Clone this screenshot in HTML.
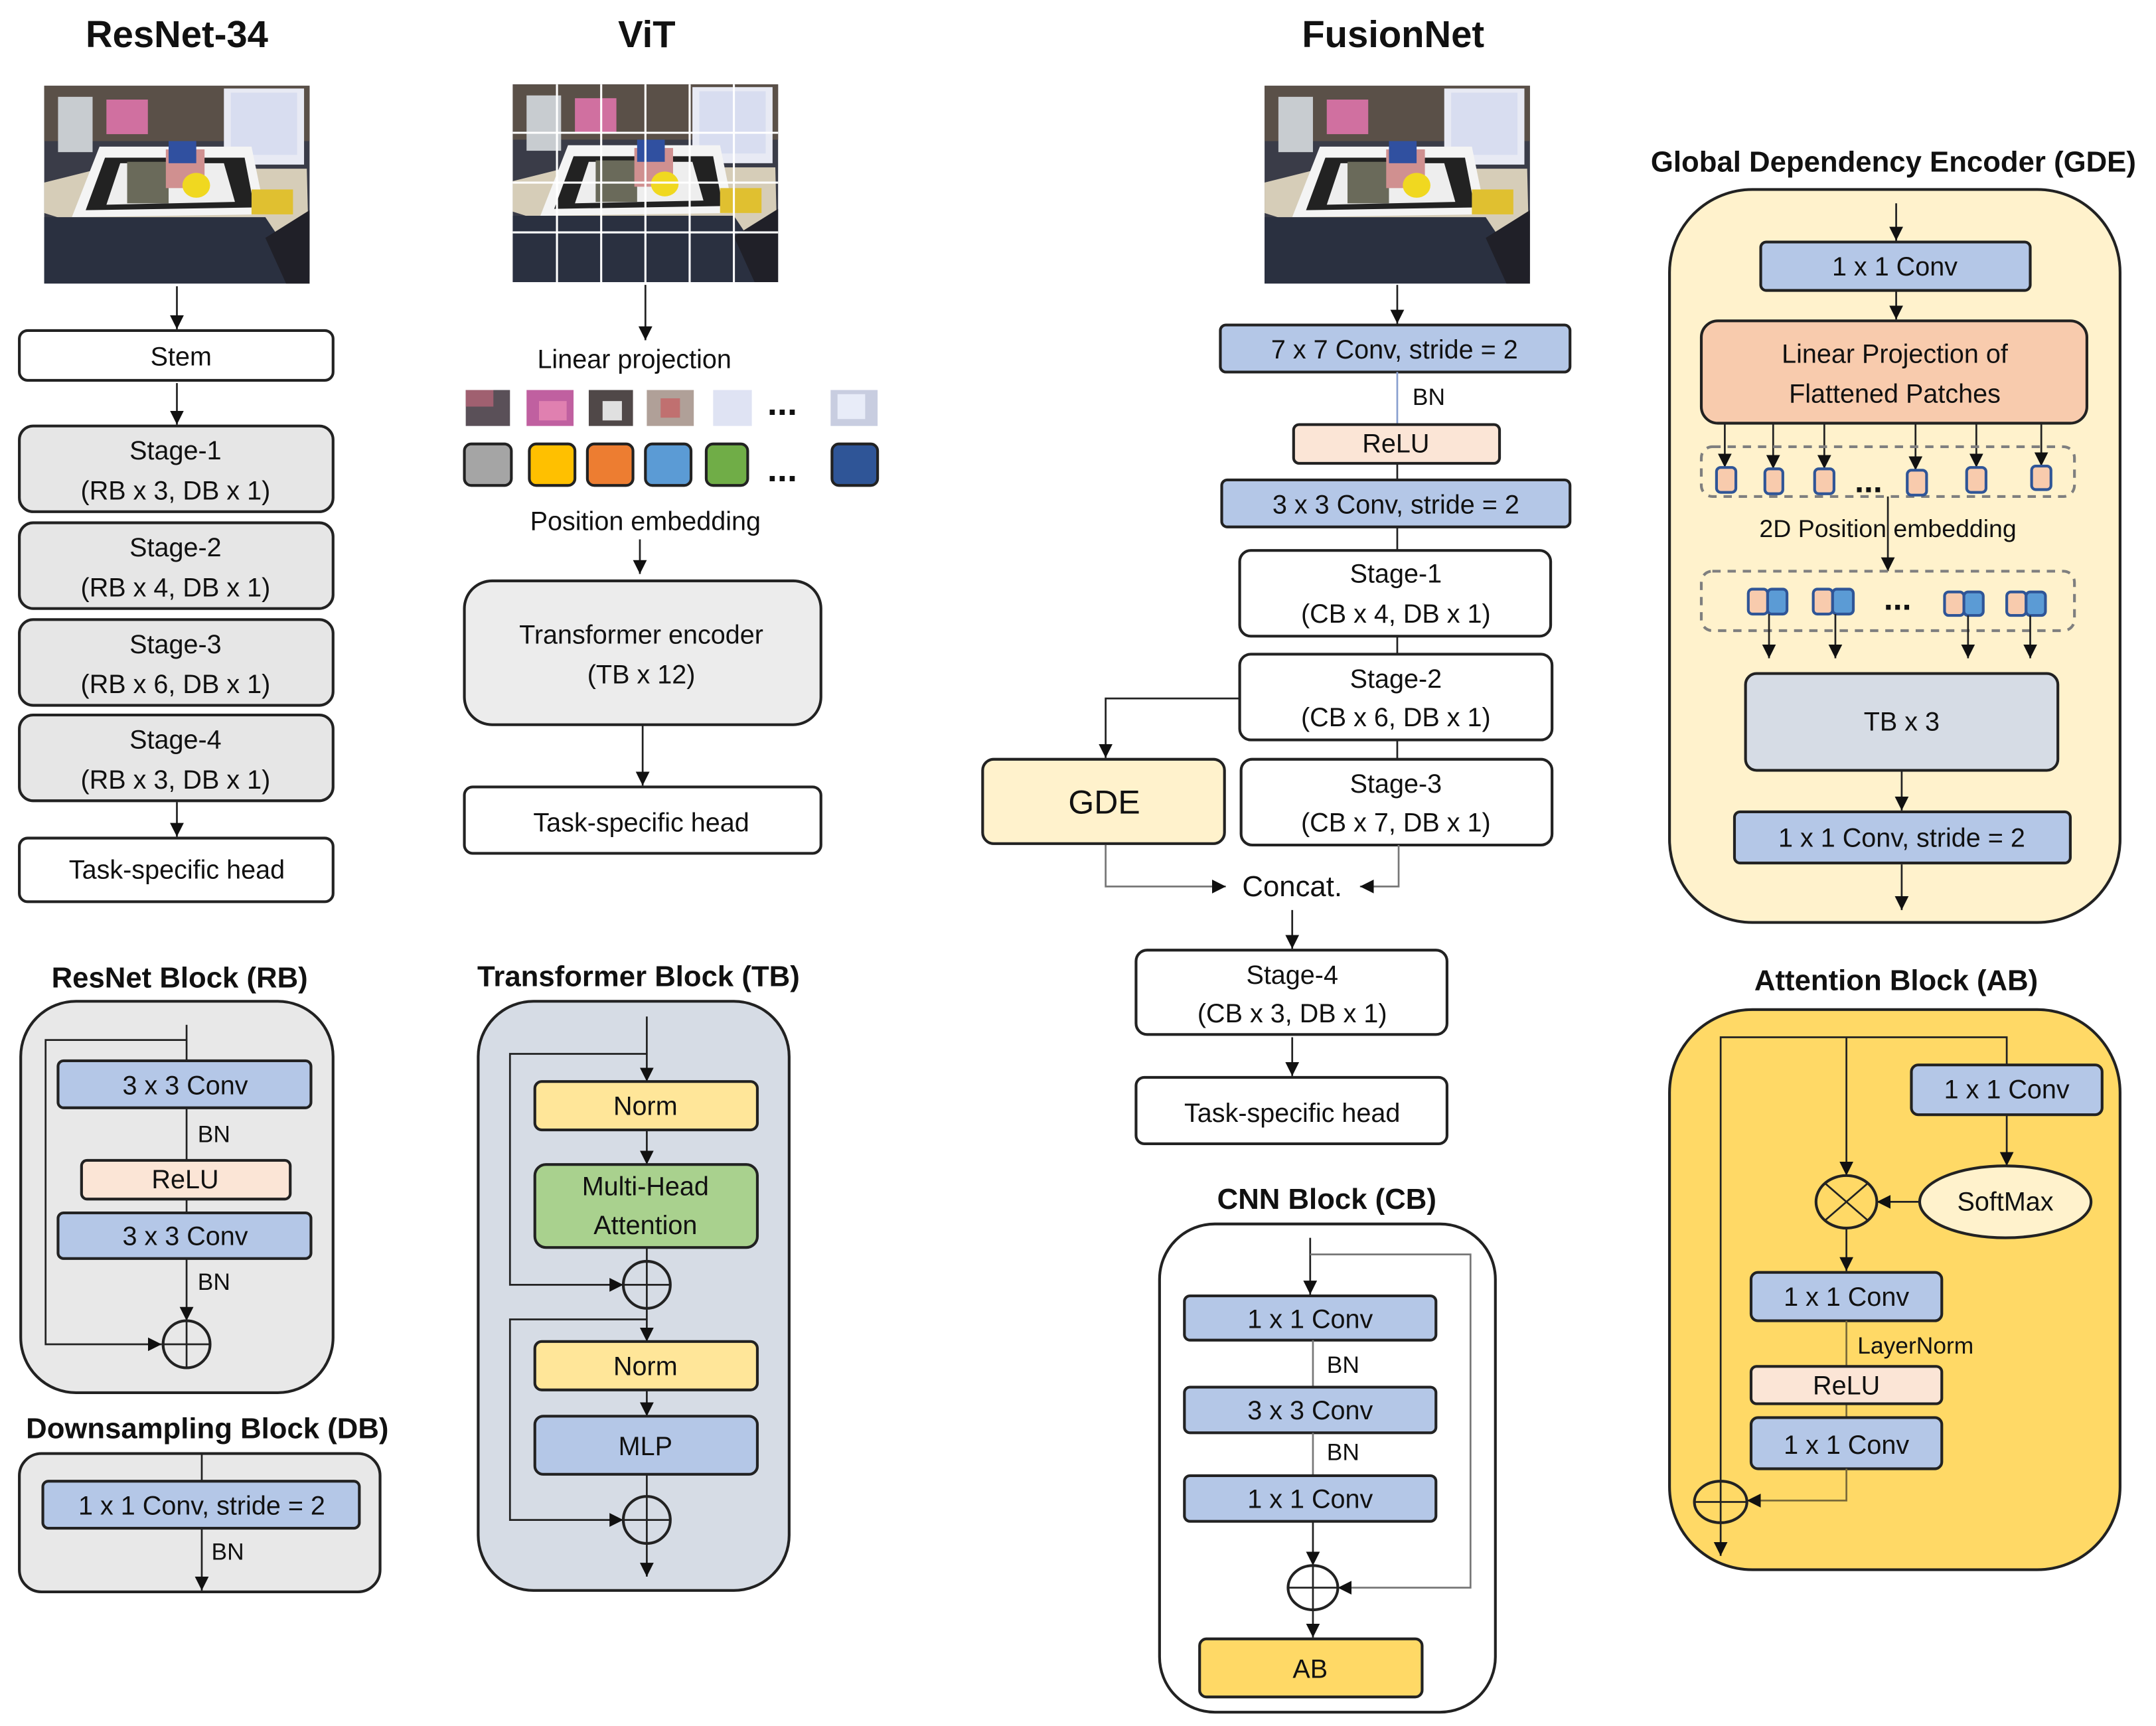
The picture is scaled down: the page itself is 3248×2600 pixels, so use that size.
<!DOCTYPE html>
<html><head><meta charset="utf-8"><style>
html,body{margin:0;padding:0;background:#fff;}
svg{display:block;}
text{font-family:"Liberation Sans",sans-serif;fill:#111;}
.t{font-size:19px;text-anchor:middle;dominant-baseline:central;}
.s{font-size:17px;text-anchor:start;dominant-baseline:central;}
.h{font-size:27px;font-weight:bold;text-anchor:middle;}
.h2{font-size:21px;font-weight:bold;text-anchor:middle;}
.b{stroke:#222;stroke-width:2;}
.l{stroke:#222;stroke-width:1.3;fill:none;}
.lg{stroke:#777;stroke-width:1.3;fill:none;}
</style></head><body>
<svg width="3248" height="2600" viewBox="0 0 1560 1248" preserveAspectRatio="none" xmlns="http://www.w3.org/2000/svg">
<defs>
<marker id="a" viewBox="0 0 10 10" refX="10" refY="5" markerWidth="10" markerHeight="10" orient="auto" markerUnits="userSpaceOnUse"><path d="M0,0L10,5L0,10z" fill="#111"/></marker>
<g id="photo">
<rect x="0" y="0" width="192" height="143" fill="#3a3c48"/>
<rect x="0" y="0" width="192" height="40" fill="#5a5048"/>
<rect x="10" y="8" width="25" height="40" fill="#c8ccd0"/>
<rect x="45" y="10" width="30" height="25" fill="#d070a0"/>
<rect x="130" y="2" width="58" height="55" fill="#e8eaf4"/>
<rect x="135" y="5" width="48" height="45" fill="#d8ddf0"/>
<path d="M0,92 L0,70 L40,60 L190,60 L192,143 L160,143 Z" fill="#d6cdb8"/>
<path d="M20,95 L40,44 L150,44 L160,93 Z" fill="#f4f4f4"/>
<path d="M30,90 L44,52 L145,52 L152,88 Z" fill="#222"/>
<path d="M45,86 L55,56 L130,56 L138,84 Z" fill="#eeeeee"/>
<rect x="60" y="55" width="30" height="30" fill="#6a6a5a"/>
<rect x="88" y="46" width="28" height="28" fill="#d09090"/>
<ellipse cx="110" cy="72" rx="10" ry="9" fill="#f0d820"/>
<rect x="90" y="40" width="20" height="16" fill="#3050a0"/>
<path d="M0,95 L160,95 L192,143 L0,143 Z" fill="#2a3040"/>
<path d="M160,110 L192,90 L192,143 L175,143 Z" fill="#202028"/>
<rect x="150" y="75" width="30" height="18" fill="#e0c030"/>
</g>
</defs>

<text class="h" x="128" y="34">ResNet-34</text>
<text class="h" x="468" y="34">ViT</text>
<text class="h" x="1008" y="34">FusionNet</text>
<text class="h2" x="1370" y="124">Global Dependency Encoder (GDE)</text>

<use href="#photo" x="32" y="62"/>
<line class="l" x1="128" y1="207" x2="128" y2="238" marker-end="url(#a)"/>
<rect class="b" x="14" y="239" width="227" height="36" rx="6" fill="#fff"/>
<text class="t" x="131" y="258">Stem</text>
<line class="l" x1="128" y1="277" x2="128" y2="307" marker-end="url(#a)"/>
<rect class="b" x="14" y="308" width="227" height="62" rx="10" fill="#e6e6e6"/>
<text class="t" x="127" y="326">Stage-1</text><text class="t" x="127" y="355">(RB x 3, DB x 1)</text>
<rect class="b" x="14" y="378" width="227" height="62" rx="10" fill="#e6e6e6"/>
<text class="t" x="127" y="396">Stage-2</text><text class="t" x="127" y="425">(RB x 4, DB x 1)</text>
<rect class="b" x="14" y="448" width="227" height="62" rx="10" fill="#e6e6e6"/>
<text class="t" x="127" y="466">Stage-3</text><text class="t" x="127" y="495">(RB x 6, DB x 1)</text>
<rect class="b" x="14" y="517" width="227" height="62" rx="10" fill="#e6e6e6"/>
<text class="t" x="127" y="535">Stage-4</text><text class="t" x="127" y="564">(RB x 3, DB x 1)</text>
<line class="l" x1="128" y1="580" x2="128" y2="605" marker-end="url(#a)"/>
<rect class="b" x="14" y="606" width="227" height="46" rx="6" fill="#fff"/>
<text class="t" x="128" y="629">Task-specific head</text>

<text class="h2" x="130" y="714">ResNet Block (RB)</text>
<rect class="b" x="15" y="724" width="226" height="283" rx="40" fill="#e8e8e8"/>
<line class="l" x1="135" y1="741" x2="135" y2="767"/>
<polyline class="l" points="135,752 33,752 33,972 117,972" marker-end="url(#a)"/>
<rect class="b" x="42" y="767" width="183" height="34" rx="4" fill="#b4c7e7"/>
<text class="t" x="134" y="785">3 x 3 Conv</text>
<line class="l" x1="135" y1="801" x2="135" y2="877"/>
<text class="s" x="143" y="820">BN</text>
<rect class="b" x="59" y="839" width="151" height="28" rx="4" fill="#fbe5d6"/>
<text class="t" x="134" y="853">ReLU</text>
<rect class="b" x="42" y="877" width="183" height="33" rx="4" fill="#b4c7e7"/>
<text class="t" x="134" y="894">3 x 3 Conv</text>
<line class="l" x1="135" y1="910" x2="135" y2="955" marker-end="url(#a)"/>
<text class="s" x="143" y="927">BN</text>
<circle class="b" cx="135" cy="972" r="17" fill="none"/>
<line class="l" x1="118" y1="972" x2="152" y2="972"/><line class="l" x1="135" y1="955" x2="135" y2="989"/>

<text class="h2" x="150" y="1040">Downsampling Block (DB)</text>
<rect class="b" x="14" y="1051" width="261" height="100" rx="16" fill="#e8e8e8"/>
<line class="l" x1="146" y1="1051" x2="146" y2="1071"/>
<rect class="b" x="31" y="1071" width="229" height="34" rx="4" fill="#b4c7e7"/>
<text class="t" x="146" y="1089">1 x 1 Conv, stride = 2</text>
<line class="l" x1="146" y1="1105" x2="146" y2="1150" marker-end="url(#a)"/>
<text class="s" x="153" y="1122">BN</text>

<use href="#photo" x="371" y="61"/>
<g stroke="#fff" stroke-width="1.5">
<line x1="403" y1="61" x2="403" y2="204"/><line x1="435" y1="61" x2="435" y2="204"/><line x1="467" y1="61" x2="467" y2="204"/><line x1="499" y1="61" x2="499" y2="204"/><line x1="531" y1="61" x2="531" y2="204"/>
<line x1="371" y1="96" x2="563" y2="96"/><line x1="371" y1="132" x2="563" y2="132"/><line x1="371" y1="168" x2="563" y2="168"/>
</g>
<line class="l" x1="467" y1="206" x2="467" y2="246" marker-end="url(#a)"/>
<text class="t" x="459" y="260">Linear projection</text>
<rect x="337" y="282" width="32" height="26" fill="#5a5058"/><rect x="337" y="282" width="20" height="12" fill="#a06070"/>
<rect x="381" y="282" width="34" height="26" fill="#c060a0"/><rect x="390" y="290" width="20" height="14" fill="#e080b0"/>
<rect x="426" y="282" width="32" height="26" fill="#504848"/><rect x="436" y="290" width="14" height="14" fill="#e0e0e0"/>
<rect x="468" y="282" width="34" height="26" fill="#b0a098"/><rect x="478" y="288" width="14" height="14" fill="#c07070"/>
<rect x="516" y="282" width="28" height="26" fill="#dfe3f3"/>
<rect x="601" y="282" width="34" height="26" fill="#c8cde0"/><rect x="606" y="285" width="20" height="18" fill="#e8ecf8"/>
<text x="566" y="300" style="font-size:26px;font-weight:bold;text-anchor:middle">...</text>
<rect class="b" x="336" y="321" width="34" height="30" rx="5" fill="#a5a5a5"/>
<rect class="b" x="383" y="321" width="33" height="30" rx="5" fill="#ffc000"/>
<rect class="b" x="425" y="321" width="33" height="30" rx="5" fill="#ed7d31"/>
<rect class="b" x="467" y="321" width="33" height="30" rx="5" fill="#5b9bd5"/>
<rect class="b" x="511" y="321" width="30" height="30" rx="5" fill="#70ad47"/>
<rect class="b" x="602" y="321" width="33" height="30" rx="5" fill="#2f5597"/>
<text x="566" y="348" style="font-size:26px;font-weight:bold;text-anchor:middle">...</text>
<text class="t" x="467" y="377">Position embedding</text>
<line class="l" x1="463" y1="390" x2="463" y2="415" marker-end="url(#a)"/>
<rect class="b" x="336" y="420" width="258" height="104" rx="20" fill="#ececec"/>
<text class="t" x="464" y="459">Transformer encoder</text><text class="t" x="464" y="488">(TB x 12)</text>
<line class="l" x1="465" y1="524" x2="465" y2="568" marker-end="url(#a)"/>
<rect class="b" x="336" y="569" width="258" height="48" rx="6" fill="#fff"/>
<text class="t" x="464" y="595">Task-specific head</text>

<text class="h2" x="462" y="713">Transformer Block (TB)</text>
<rect class="b" x="346" y="724" width="225" height="426" rx="40" fill="#d6dce5"/>
<line class="l" x1="468" y1="735" x2="468" y2="782" marker-end="url(#a)"/>
<polyline class="l" points="468,762 369,762 369,929 451,929" marker-end="url(#a)"/>
<rect class="b" x="387" y="782" width="161" height="35" rx="5" fill="#ffe699"/>
<text class="t" x="467" y="800">Norm</text>
<line class="l" x1="468" y1="817" x2="468" y2="842" marker-end="url(#a)"/>
<rect class="b" x="387" y="842" width="161" height="60" rx="8" fill="#a9d18e"/>
<text class="t" x="467" y="858">Multi-Head</text><text class="t" x="467" y="886">Attention</text>
<line class="l" x1="468" y1="902" x2="468" y2="912"/>
<circle class="b" cx="468" cy="929" r="17" fill="none"/>
<line class="l" x1="451" y1="929" x2="485" y2="929"/><line class="l" x1="468" y1="912" x2="468" y2="946"/>
<line class="l" x1="468" y1="946" x2="468" y2="970" marker-end="url(#a)"/>
<polyline class="l" points="468,954 369,954 369,1099 451,1099" marker-end="url(#a)"/>
<rect class="b" x="387" y="970" width="161" height="35" rx="5" fill="#ffe699"/>
<text class="t" x="467" y="988">Norm</text>
<line class="l" x1="468" y1="1005" x2="468" y2="1024" marker-end="url(#a)"/>
<rect class="b" x="387" y="1024" width="161" height="42" rx="6" fill="#b4c7e7"/>
<text class="t" x="467" y="1046">MLP</text>
<line class="l" x1="468" y1="1066" x2="468" y2="1082"/>
<circle class="b" cx="468" cy="1099" r="17" fill="none"/>
<line class="l" x1="451" y1="1099" x2="485" y2="1099"/><line class="l" x1="468" y1="1082" x2="468" y2="1116"/>
<line class="l" x1="468" y1="1116" x2="468" y2="1140" marker-end="url(#a)"/>

<use href="#photo" x="915" y="62"/>
<line class="l" x1="1011" y1="206" x2="1011" y2="234" marker-end="url(#a)"/>
<rect class="b" x="883" y="235" width="253" height="34" rx="4" fill="#b4c7e7"/>
<text class="t" x="1009" y="253">7 x 7 Conv, stride = 2</text>
<line x1="1011" y1="269" x2="1011" y2="307" stroke="#8aa0d0" stroke-width="1.3"/>
<text class="s" x="1022" y="287">BN</text>
<rect class="b" x="936" y="307" width="149" height="28" rx="4" fill="#fbe5d6"/>
<text class="t" x="1010" y="321">ReLU</text>
<line class="l" x1="1011" y1="335" x2="1011" y2="347"/>
<rect class="b" x="884" y="347" width="252" height="34" rx="4" fill="#b4c7e7"/>
<text class="t" x="1010" y="365">3 x 3 Conv, stride = 2</text>
<line class="l" x1="1011" y1="381" x2="1011" y2="398"/>
<rect class="b" x="897" y="398" width="225" height="62" rx="8" fill="#fff"/>
<text class="t" x="1010" y="415">Stage-1</text><text class="t" x="1010" y="444">(CB x 4, DB x 1)</text>
<line class="l" x1="1011" y1="460" x2="1011" y2="473"/>
<rect class="b" x="897" y="473" width="226" height="62" rx="8" fill="#fff"/>
<text class="t" x="1010" y="491">Stage-2</text><text class="t" x="1010" y="519">(CB x 6, DB x 1)</text>
<line class="l" x1="1011" y1="535" x2="1011" y2="549"/>
<rect class="b" x="898" y="549" width="225" height="62" rx="8" fill="#fff"/>
<text class="t" x="1010" y="567">Stage-3</text><text class="t" x="1010" y="595">(CB x 7, DB x 1)</text>
<polyline class="l" points="897,505 800,505 800,548" marker-end="url(#a)"/>
<rect class="b" x="711" y="549" width="175" height="61" rx="8" fill="#fff2cc"/>
<text class="t" x="799" y="580" style="font-size:24px">GDE</text>
<polyline class="lg" points="800,611 800,641 887,641" marker-end="url(#a)"/>
<text class="t" x="935" y="641" style="font-size:21px">Concat.</text>
<polyline class="lg" points="1012,611 1012,641 984,641" marker-end="url(#a)"/>
<line class="l" x1="935" y1="658" x2="935" y2="686" marker-end="url(#a)"/>
<rect class="b" x="822" y="687" width="225" height="61" rx="8" fill="#fff"/>
<text class="t" x="935" y="705">Stage-4</text><text class="t" x="935" y="733">(CB x 3, DB x 1)</text>
<line class="l" x1="935" y1="750" x2="935" y2="778" marker-end="url(#a)"/>
<rect class="b" x="822" y="779" width="225" height="48" rx="6" fill="#fff"/>
<text class="t" x="935" y="805">Task-specific head</text>

<text class="h2" x="960" y="874">CNN Block (CB)</text>
<rect class="b" x="839" y="885" width="243" height="353" rx="40" fill="#fff"/>
<line class="l" x1="948" y1="895" x2="948" y2="936" marker-end="url(#a)"/>
<polyline class="lg" points="948,907 1064,907 1064,1148 968,1148" marker-end="url(#a)"/>
<rect class="b" x="857" y="937" width="182" height="32" rx="4" fill="#b4c7e7"/>
<text class="t" x="948" y="954">1 x 1 Conv</text>
<line class="lg" x1="950" y1="969" x2="950" y2="1003"/>
<text class="s" x="960" y="987">BN</text>
<rect class="b" x="857" y="1003" width="182" height="33" rx="4" fill="#b4c7e7"/>
<text class="t" x="948" y="1020">3 x 3 Conv</text>
<line class="lg" x1="950" y1="1036" x2="950" y2="1067"/>
<text class="s" x="960" y="1050">BN</text>
<rect class="b" x="857" y="1067" width="182" height="33" rx="4" fill="#b4c7e7"/>
<text class="t" x="948" y="1084">1 x 1 Conv</text>
<line class="l" x1="950" y1="1100" x2="950" y2="1132" marker-end="url(#a)"/>
<ellipse class="b" cx="950" cy="1148" rx="18" ry="16" fill="none"/>
<line class="l" x1="932" y1="1148" x2="968" y2="1148"/><line class="l" x1="950" y1="1132" x2="950" y2="1164"/>
<line class="l" x1="950" y1="1164" x2="950" y2="1184" marker-end="url(#a)"/>
<rect class="b" x="868" y="1185" width="161" height="42" rx="5" fill="#ffd966"/>
<text class="t" x="948" y="1207">AB</text>

<rect class="b" x="1208" y="137" width="326" height="530" rx="60" fill="#fff2cc"/>
<line class="l" x1="1372" y1="147" x2="1372" y2="174" marker-end="url(#a)"/>
<rect class="b" x="1274" y="175" width="195" height="35" rx="4" fill="#b4c7e7"/>
<text class="t" x="1371" y="193">1 x 1 Conv</text>
<line class="l" x1="1372" y1="210" x2="1372" y2="231" marker-end="url(#a)"/>
<rect class="b" x="1231" y="232" width="279" height="74" rx="12" fill="#f8cbad"/>
<text class="t" x="1371" y="256">Linear Projection of</text><text class="t" x="1371" y="285">Flattened Patches</text>
<g>
<line class="l" x1="1248" y1="306" x2="1248" y2="338" marker-end="url(#a)"/>
<line class="l" x1="1283" y1="306" x2="1283" y2="339" marker-end="url(#a)"/>
<line class="l" x1="1320" y1="306" x2="1320" y2="339" marker-end="url(#a)"/>
<line class="l" x1="1386" y1="306" x2="1386" y2="340" marker-end="url(#a)"/>
<line class="l" x1="1430" y1="306" x2="1430" y2="338" marker-end="url(#a)"/>
<line class="l" x1="1477" y1="306" x2="1477" y2="337" marker-end="url(#a)"/>
</g>
<rect x="1231" y="323" width="270" height="36" rx="8" fill="none" stroke="#7f7f7f" stroke-width="2" stroke-dasharray="6,5"/>
<g fill="#f8cbad" stroke="#2f5597" stroke-width="2">
<rect x="1242" y="338" width="14" height="18" rx="3"/>
<rect x="1277" y="339" width="13" height="18" rx="3"/>
<rect x="1313" y="339" width="14" height="18" rx="3"/>
<rect x="1380" y="340" width="14" height="18" rx="3"/>
<rect x="1423" y="338" width="14" height="18" rx="3"/>
<rect x="1470" y="337" width="14" height="17" rx="3"/>
</g>
<text x="1352" y="356" style="font-size:24px;font-weight:bold;text-anchor:middle">...</text>
<text class="t" x="1366" y="382" style="font-size:18px">2D Position embedding</text>
<line class="l" x1="1366" y1="359" x2="1366" y2="413" marker-end="url(#a)"/>
<rect x="1231" y="413" width="270" height="43" rx="8" fill="none" stroke="#7f7f7f" stroke-width="2" stroke-dasharray="6,5"/>
<g stroke="#2f5597" stroke-width="2">
<rect x="1265" y="426" width="14" height="18" rx="3" fill="#f8cbad"/><rect x="1279" y="426" width="14" height="18" rx="3" fill="#5b9bd5"/>
<rect x="1312" y="426" width="14" height="18" rx="3" fill="#f8cbad"/><rect x="1326" y="426" width="15" height="18" rx="3" fill="#5b9bd5"/>
<rect x="1407" y="428" width="14" height="17" rx="3" fill="#f8cbad"/><rect x="1421" y="428" width="14" height="17" rx="3" fill="#5b9bd5"/>
<rect x="1452" y="428" width="14" height="17" rx="3" fill="#f8cbad"/><rect x="1466" y="428" width="14" height="17" rx="3" fill="#5b9bd5"/>
</g>
<text x="1373" y="441" style="font-size:24px;font-weight:bold;text-anchor:middle">...</text>
<line class="l" x1="1280" y1="444" x2="1280" y2="476" marker-end="url(#a)"/>
<line class="l" x1="1328" y1="444" x2="1328" y2="476" marker-end="url(#a)"/>
<line class="l" x1="1424" y1="445" x2="1424" y2="476" marker-end="url(#a)"/>
<line class="l" x1="1469" y1="445" x2="1469" y2="476" marker-end="url(#a)"/>
<rect class="b" x="1263" y="487" width="226" height="70" rx="8" fill="#d6dce5"/>
<text class="t" x="1376" y="522">TB x 3</text>
<line class="l" x1="1376" y1="557" x2="1376" y2="586" marker-end="url(#a)"/>
<rect class="b" x="1255" y="587" width="243" height="37" rx="4" fill="#b4c7e7"/>
<text class="t" x="1376" y="606">1 x 1 Conv, stride = 2</text>
<line class="l" x1="1376" y1="625" x2="1376" y2="658" marker-end="url(#a)"/>

<text class="h2" x="1372" y="716">Attention Block (AB)</text>
<rect class="b" x="1208" y="730" width="326" height="405" rx="60" fill="#ffd966"/>
<polyline class="l" points="1452,770 1452,750 1245,750 1245,1125" marker-end="url(#a)"/>
<rect class="b" x="1383" y="770" width="138" height="36" rx="5" fill="#b4c7e7"/>
<text class="t" x="1452" y="788">1 x 1 Conv</text>
<line class="l" x1="1452" y1="806" x2="1452" y2="843" marker-end="url(#a)"/>
<ellipse class="b" cx="1451" cy="869" rx="62" ry="26" fill="#fff2cc"/>
<text class="t" x="1451" y="869">SoftMax</text>
<line class="l" x1="1336" y1="750" x2="1336" y2="850" marker-end="url(#a)"/>
<line class="l" x1="1389" y1="869" x2="1358" y2="869" marker-end="url(#a)"/>
<ellipse class="b" cx="1336" cy="869" rx="22" ry="19" fill="none"/>
<line class="l" x1="1321" y1="856" x2="1351" y2="882"/><line class="l" x1="1351" y1="856" x2="1321" y2="882"/>
<line class="l" x1="1336" y1="888" x2="1336" y2="919" marker-end="url(#a)"/>
<rect class="b" x="1267" y="920" width="138" height="35" rx="5" fill="#b4c7e7"/>
<text class="t" x="1336" y="938">1 x 1 Conv</text>
<line x1="1336" y1="955" x2="1336" y2="1025" stroke="#7a6a3a" stroke-width="1.3"/>
<text class="s" x="1344" y="973">LayerNorm</text>
<rect class="b" x="1267" y="988" width="138" height="27" rx="4" fill="#fbe5d6"/>
<text class="t" x="1336" y="1002">ReLU</text>
<rect class="b" x="1267" y="1025" width="138" height="37" rx="5" fill="#b4c7e7"/>
<text class="t" x="1336" y="1045">1 x 1 Conv</text>
<polyline points="1336,1062 1336,1085 1264,1085" fill="none" stroke="#7a6a3a" stroke-width="1.3" marker-end="url(#a)"/>
<ellipse class="b" cx="1245" cy="1086" rx="19" ry="15" fill="none"/>
<line class="l" x1="1226" y1="1086" x2="1264" y2="1086"/>
</svg>
</body></html>
